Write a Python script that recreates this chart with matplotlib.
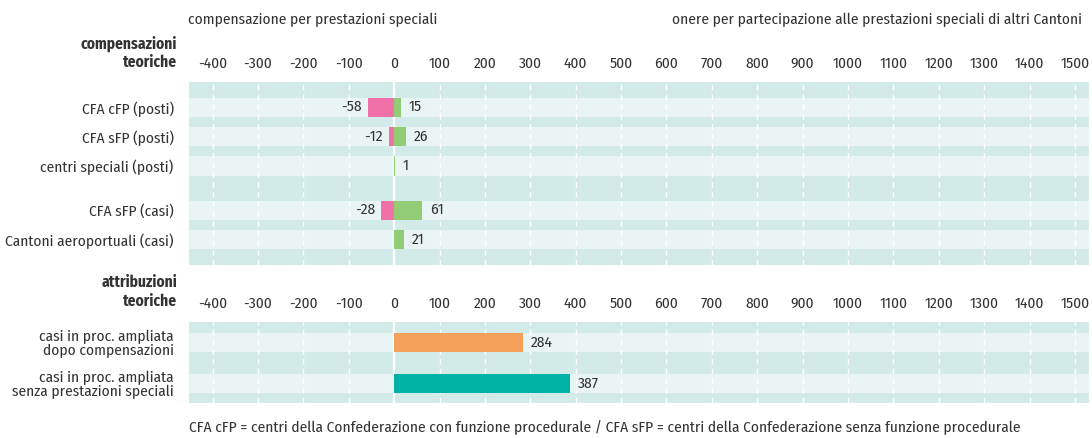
import matplotlib
matplotlib.use("Agg")
from matplotlib import pyplot as plt

plt.rcParams['font.family'] = ['Fira Sans Condensed', 'Roboto Condensed', 'DejaVu Sans']

# data
top_labels = ['CFA cFP (posti)', 'CFA sFP (posti)', 'centri speciali (posti)',
              'CFA sFP (casi)', 'Cantoni aeroportuali (casi)']
top_neg = [-58, -12, 0, -28, 0]
top_pos = [15, 26, 1, 61, 21]

bot_labels = ['casi in proc. ampliata\ndopo compensazioni',
              'casi in proc. ampliata\nsenza prestazioni speciali']
bot_vals = [284, 387]
bot_colors = ['#f5a05a', '#00b2a5']

ticks = list(range(-400, 1501, 100))

c_dark = '#d3ebe8'
c_light = '#e8f5f4'
c_neg = '#f070a8'
c_pos = '#92cc74'
c_txt = '#333333'
fs = 11.1

fig = plt.figure(figsize=(10.92, 4.38), dpi=100)
ax1 = fig.add_axes([189/1092, (438-265)/438, 900/1092, 183/438])
ax2 = fig.add_axes([189/1092, (438-403)/438, 900/1092, 81/438])


def style(ax, ylim, rows, h):
    ax.set_facecolor(c_dark)
    for r in rows:
        ax.axhspan(r - h/2, r + h/2, color=c_light, zorder=0, lw=0)
    for t in ticks:
        if t == 0:
            ax.axvline(0, color='white', lw=1.6, zorder=1)
        else:
            ax.axvline(t, color='white', lw=1, ls=(0, (4, 3)), zorder=1)
    ax.set_xlim(-452, 1531)
    ax.set_ylim(*ylim)
    ax.set_xticks(ticks)
    ax.set_xticklabels([str(t) for t in ticks])
    ax.xaxis.tick_top()
    ax.tick_params(axis='x', length=0, pad=8, labelsize=fs, colors=c_txt)
    ax.tick_params(axis='y', length=0, pad=11, labelsize=fs, colors=c_txt)
    for s in ax.spines.values():
        s.set_visible(False)


# top panel
rows1 = [0, 1, 2, 3.5, 4.5]
h1 = 0.66
style(ax1, (5.36, -0.86), rows1, h1)
ax1.barh(rows1, top_neg, height=h1, color=c_neg, zorder=2)
ax1.barh(rows1, top_pos, height=h1, color=c_pos, zorder=2)
ax1.set_yticks(rows1)
ax1.set_yticklabels(top_labels)
for r, n, p in zip(rows1, top_neg, top_pos):
    if n < 0:
        ax1.text(n - 14, r, str(n), ha='right', va='center', fontsize=fs, color=c_txt)
    ax1.text(p + 18, r, str(p), ha='left', va='center', fontsize=fs, color=c_txt)

# bottom panel
rows2 = [0, 1]
h2 = 0.475
style(ax2, (1.48, -0.5), rows2, h2)
ax2.barh(rows2, bot_vals, height=h2, color=bot_colors, zorder=2)
ax2.set_yticks(rows2)
ax2.set_yticklabels(bot_labels, linespacing=1.0)
for r, v in zip(rows2, bot_vals):
    ax2.text(v + 18, r, str(v), ha='left', va='center', fontsize=fs, color=c_txt)

# group titles
fig.text(177/1092, 1 - 53/438, 'compensazioni\nteoriche', ha='right', va='center',
         fontsize=fs, fontweight='bold', color=c_txt, linespacing=1.25)
fig.text(177/1092, 1 - 292/438, 'attribuzioni\nteoriche', ha='right', va='center',
         fontsize=fs, fontweight='bold', color=c_txt, linespacing=1.25)

# headers
fig.text(188/1092, 1 - 20/438, 'compensazione per prestazioni speciali',
         ha='left', va='center', fontsize=fs, color=c_txt)
fig.text(1082/1092, 1 - 20/438, 'onere per partecipazione alle prestazioni speciali di altri Cantoni',
         ha='right', va='center', fontsize=fs, color=c_txt)

# footnote
fig.text(189/1092, 1 - 428/438,
         'CFA cFP = centri della Confederazione con funzione procedurale / '
         'CFA sFP = centri della Confederazione senza funzione procedurale',
         ha='left', va='center', fontsize=fs, color=c_txt)

fig.savefig('out.png', dpi=100)
